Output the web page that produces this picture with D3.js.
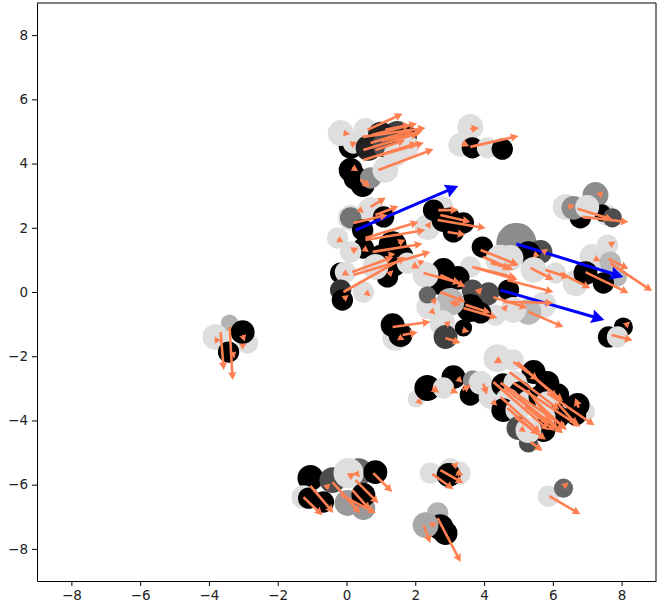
<!DOCTYPE html>
<html>
<head>
<meta charset="utf-8">
<script src="https://cdn.jsdelivr.net/npm/d3@7"></script>
<style>
  html, body { margin: 0; padding: 0; background: #fff; }
  text { font-family: "DejaVu Sans", sans-serif; }
</style>
</head>
<body>
<script>
// circles: [x, y, shade, area], listed in drawing order
const circlesTopLeft = [
  [0.12, 4.52, 0, 200], [-0.17, 4.95, 0.87, 235], [0.55, 5.05, 0.87, 200], [0.2, 4.64, 0.87, 160],
  [1.48, 4.89, 0.25, 275], [1.0, 4.9, 0.13, 235], [1.3, 4.5, 0, 235], [1.7, 4.85, 0.13, 200],
  [0.64, 4.49, 0.13, 235], [1.13, 4.58, 0.3, 235], [1.77, 4.52, 0.87, 200],
  [1.42, 4.27, 0.87, 200], [0.12, 3.8, 0, 200], [0.26, 3.55, 0, 200], [0.47, 3.33, 0, 200],
  [0.7, 3.55, 0.55, 160], [1.13, 3.8, 0.87, 235],
];
const circlesTopMiddle = [
  [3.6, 5.14, 0.87, 235], [3.31, 4.58, 0.87, 200], [3.66, 4.49, 0, 160], [4.1, 4.49, 0.87, 160], [4.53, 4.45, 0, 160],
];
const circlesLeftGroup = [
  [0.7, 2.55, 0.87, 235], [-0.26, 1.68, 0.87, 160], [0.12, 2.31, 0.87, 235], [0.12, 2.31, 0.45, 160],
  [2.79, 2.65, 0.87, 160], [2.35, 2.02, 0.87, 235], [1.08, 2.34, 0, 160], [0.47, 1.93, 0, 160],
  [0.49, 1.37, 0, 160], [0.12, 1.25, 0.87, 160], [-0.17, 0.59, 0, 160], [-0.03, 0.62, 0.87, 160],
  [-0.17, 0.06, 0.2, 160], [-0.12, -0.25, 0, 160], [0.49, 0, 0.87, 160], [1.34, 1.46, 0, 275],
  [1.0, 1.1, 0, 200], [1.6, 1.1, 0, 200], [1.34, 0.9, 0, 275], [1.19, 0.47, 0, 160], [0.84, 0.78, 0.87, 235],
  [1.42, -1.43, 0.87, 235], [1.34, -1.03, 0, 200], [1.57, -1.34, 0, 200],
];
const circlesUpperCentre = [
  [2.53, 2.55, 0, 160], [2.82, 2.24, 0, 200], [3.0, 2.3, 0, 160], [3.4, 2.15, 0, 160], [3.11, 1.87, 0, 160],
];
const circlesUpperRight = [
  [6.37, 2.65, 0.87, 235], [7.24, 3.02, 0.55, 235], [7.56, 2.4, 0.87, 160], [6.8, 2.31, 0, 160],
  [7.44, 2.46, 0, 105], [7.73, 2.31, 0.3, 130], [6.6, 2.62, 0.55, 200], [7.0, 2.65, 0.87, 200],
];
const circlesRight = [
  [4.94, 1.53, 0.55, 565], [5.64, 1.25, 0.3, 200], [5.29, 1.21, 0, 200], [4.77, 1.06, 0.87, 235],
  [5.44, 0.69, 0.87, 235], [6.08, 0.59, 0.87, 160], [6.66, 0.28, 0.87, 235], [7.59, 1.46, 0.87, 160],
  [7.15, 1.09, 0.87, 235], [7.67, 0.93, 0.72, 160], [7.88, 0.47, 0.72, 130], [6.95, 0.59, 0, 200],
  [7.47, 0.28, 0, 160], [5.73, -0.4, 0.87, 235], [5.29, -0.62, 0.72, 235], [4.71, 0.06, 0, 160],
  [4.13, -0.03, 0.3, 160], [4.85, -0.56, 0.87, 235], [8.05, -1.09, 0, 130], [7.62, -1.4, 0, 160],
  [7.88, -1.4, 0.87, 160],
];
const circlesCentre = [
  [3.6, 0.78, 0.87, 160], [2.82, 0.69, 0, 200], [3.23, 0.44, 0, 200], [2.73, 0.28, 0, 200],
  [2.3, 0.53, 0.87, 235], [1.77, 0.9, 0.87, 160], [3.66, 0.06, 0.3, 160], [4.1, -0.09, 0.3, 160],
  [4.33, -0.72, 0.87, 160], [3.6, -0.5, 0, 275], [3.9, -0.65, 0, 160], [3.02, -0.31, 0.72, 275],
  [2.38, -0.47, 0.87, 200], [2.35, -0.09, 0.4, 105], [3.4, -1.12, 0, 105], [2.79, -0.97, 0.87, 235],
  [2.88, -1.4, 0.25, 200], [3.95, 1.4, 0, 160], [4.48, 1.0, 0.87, 320],
];
const circlesLowerRight = [
  [2.03, -3.33, 0.87, 105], [2.35, -2.99, 0, 235], [3.11, -2.65, 0, 200], [2.82, -2.99, 0.87, 160],
  [3.66, -2.74, 0.55, 130], [3.6, -3.21, 0, 160], [4.39, -2.06, 0.87, 275], [4.85, -2.12, 0.87, 160],
  [5.44, -2.49, 0, 200], [5.84, -2.83, 0, 200], [6.13, -3.21, 0, 200], [6.95, -3.74, 0.87, 130],
  [6.72, -3.52, 0, 200], [6.66, -3.83, 0, 160], [3.9, -2.83, 0.87, 200], [4.19, -3.27, 0.87, 200],
  [4.56, -2.9, 0, 200], [4.91, -2.83, 0.87, 200], [5.06, -3.15, 0, 200], [4.68, -3.36, 0.87, 200],
  [4.56, -3.68, 0, 200], [4.97, -3.68, 0.87, 200], [5.29, -3.43, 0.87, 200], [5.64, -3.27, 0, 200],
  [5.84, -3.46, 0.87, 200], [6.13, -3.89, 0, 200], [5.73, -3.89, 0.87, 200], [5.73, -4.3, 0, 200],
  [5.0, -4.24, 0.3, 200], [5.29, -4.7, 0.3, 130], [5.29, -4.3, 0.87, 235],
];
const circlesBottom = [
  [-1.05, -5.79, 0, 235], [-1.25, -6.39, 0.87, 200], [-1.1, -6.42, 0, 160], [-0.67, -6.54, 0, 160],
  [-0.41, -5.86, 0.3, 235], [0.35, -5.61, 0.4, 275], [0.06, -5.64, 0.87, 320], [0.84, -5.61, 0, 200],
  [0.03, -6.57, 0.6, 235], [0.49, -6.73, 0.6, 200], [0.49, -6.32, 0, 200],
  [3.02, -5.55, 0.87, 200], [3.26, -5.64, 0.87, 200], [2.44, -5.64, 0.87, 160], [2.97, -5.7, 0, 200],
  [2.65, -6.88, 0.7, 160], [2.73, -7.32, 0, 235], [2.88, -7.51, 0, 200], [2.3, -7.26, 0.66, 235],
  [5.87, -6.36, 0.87, 160], [6.31, -6.11, 0.4, 130],
];
const circlesFarLeft = [
  [-3.4, -0.97, 0.7, 105], [-3.81, -1.4, 0.87, 235], [-2.88, -1.59, 0.87, 160], [-3.43, -1.87, 0, 160], [-3.02, -1.25, 0, 200],
];

// arrows: [x, y, u, v]
const blueArrows = [
  [0.26, 1.93, 2.99, 1.37], [4.94, 1.5, 3.11, -1.03], [4.48, 0.06, 3.02, -0.93],
];
const arrowsUpper = [
  [0.61, 5.05, 1.02, 0.5], [0.47, 4.83, 1.83, 0.28], [0.49, 4.42, 1.6, 0.53], [0.7, 4.64, 1.22, 0.4],
  [0.49, 4.11, 1.57, 0.53], [0.93, 3.8, 1.6, 0.65], [0.84, 4.42, 0.87, 0.31], [1.13, 5.05, 0.73, 0.16],
  [0.75, 4.9, 1.3, 0.35], [0.95, 4.25, 1.3, 0.4], [1.0, 4.7, 1.2, 0.3],
  [-0.09, 4.95, 0.17, -0.03], [0.12, 4.58, 0.2, 0.09], [0.17, 3.88, 0.17, -0.12], [0.41, 3.49, 0.29, -0.22],
  [3.6, 5.08, 0.26, 0.03], [3.6, 4.52, 1.4, 0.34], [3.37, 4.64, 0.2, -0.1],
];
const arrowsLeftGroup = [
  [0.7, 2.65, 0.44, 0.29], [0.84, 2.4, 0.67, 0.27], [0.2, 2.15, 0.99, 0.25], [0.35, 2.59, 0.12, -0.09],
  [0.55, 1.68, 1.54, 0.5], [0.55, 1.62, 1.74, 0.31], [0.76, 1.25, 1.45, 0.25], [0.17, 0.62, 1.19, 0.47],
  [0.2, 0.53, 2.24, 0.72], [-0.09, 0, 1.8, 1.09], [-0.26, 1.65, 0.17, -0.1], [0.15, 1.28, 0.2, 0.1],
  [-0.09, 0.62, 0.15, -0.1], [-0.09, -0.22, 0.12, 0.1], [0.55, 0, 0.12, -0.1], [1.22, 0.53, 0.1, 0.1],
  [1.51, 1.53, 0.2, 0.1], [1.92, 0.84, 0.2, -0.1], [2.09, 0.9, 0.15, 0.06], [1.22, 1.15, 0.2, 0.03],
  [0.49, 1.37, 0.15, -0.12], [1.34, -1.09, 1.1, 0.16], [1.63, -1.34, 0.44, 0.09], [1.51, -1.4, 0.17, -0.09],
  [2.65, 2.24, 1.4, -0.25], [2.67, 2.55, 0.58, 0], [2.94, 1.87, 0.52, -0.09], [2.73, 2.4, 0.87, -0.22], [2.35, 2.02, 0.09, 0.15],
];
const arrowsRight = [
  [6.72, 2.59, 1.02, -0.34], [6.86, 2.34, 1.34, -0.16], [7.33, 2.99, 0.1, 0.1], [6.45, 2.65, 0.17, 0.03],
  [7.62, 1.03, 0.58, -0.31], [7.67, 0.9, 1.22, -0.87], [6.95, 0.62, 1.25, -0.65], [6.22, 0.59, 0.87, -0.47],
  [5.78, 0.69, 0.7, -0.25], [5.35, 0.75, 0.67, -0.37], [4.68, 0.37, 1.34, -0.37], [5.29, -0.62, 1.02, -0.47],
  [4.56, -0.31, 1.45, -0.03], [7.65, 1.46, 0.15, 0.1], [7.21, 1.06, 0.17, -0.1], [5.44, 1.18, 0.17, -0.06],
  [5.7, 1.22, 0.12, 0.1], [7.71, -1.34, 0.61, -0.16], [8.1, -1.06, 0.1, 0.1],
];
const arrowsCentre = [
  [3.9, 1.31, 1.1, -0.47], [3.98, 1.09, 0.87, -0.4], [4.19, 0.9, 0.58, -0.16], [3.78, 0.75, 1.16, -0.31],
  [4.77, 0.93, 0.2, -0.12], [2.24, 0.59, 1.08, -0.31], [2.73, 0.53, 0.73, -0.37], [2.73, 0, 0.73, -0.31],
  [3.66, 0.78, 1.31, -0.4], [3.4, -0.5, 0.99, -0.31], [4.27, -0.16, 0.99, -0.34], [2.88, -1.43, 0.44, -0.16],
  [3.46, -0.4, 0.73, -0.25], [2.5, -0.34, 0.12, 0.15], [2.44, -0.56, 0.1, -0.1], [3.8, -0.03, 0.15, 0.17],
  [2.88, -1.03, 0.12, 0.1], [4.56, -0.56, 0.12, 0.15], [3.02, -0.31, 0.3, -0.1], [3.37, -1.18, 0.2, -0.06],
];
const arrowsLowerRight = [
  [4.85, -2.18, 0.73, -0.56], [4.97, -2.18, 1.16, -1.12], [4.74, -2.49, 1.45, -1.18], [4.27, -2.8, 1.6, -1.5],
  [4.48, -2.83, 1.89, -1.4], [4.85, -2.83, 1.95, -1.37], [4.48, -3.27, 1.16, -1.12], [4.68, -3.61, 0.9, -0.84],
  [5.26, -3.05, 0.87, -1.25], [5.84, -3.15, 1.37, -1.0], [6.13, -3.46, 0.58, -0.69], [5.35, -4.67, 0.35, -0.28],
  [5.2, -3.55, 0.87, -0.78], [4.6, -3.0, 1.3, -1.1], [5.0, -3.3, 1.3, -1.1], [5.5, -3.4, 0.9, -0.9],
  [4.9, -3.9, 0.9, -0.7], [5.5, -2.7, 0.8, -0.7], [4.48, -2.1, -0.2, -0.12], [2.06, -3.36, 0.1, -0.1], [2.5, -2.99, 0.2, -0.15],
  [3.23, -2.68, 0.1, -0.1], [3.05, -3.05, 0.2, -0.1], [3.98, -2.85, 0.1, -0.35], [4.24, -3.4, 0.1, -0.1],
  [5.06, -4.24, 0.12, -0.1], [6.75, -3.6, -0.1, 0.3], [3.37, -3.05, 0.25, 0.15],
];
const arrowsBottom = [
  [-1.05, -6.04, 0.67, -0.84], [-1.25, -6.39, 0.55, -0.56], [-0.41, -5.92, 0.81, -0.97], [0.26, -5.86, 0.67, -0.72],
  [0.78, -5.64, 0.55, -0.59], [-0.17, -6.32, 1.02, -0.56], [0.17, -6.17, 0.52, -0.62], [-0.61, -6.11, 0.1, 0.1],
  [0.06, -5.76, 0.2, 0.12], [0.26, -5.61, 0.12, -0.15], [2.5, -5.67, 0.61, -0.47], [2.73, -5.55, 0.67, -0.4],
  [3.11, -5.45, 0.1, 0.1], [3.2, -5.61, 0.2, -0.1], [2.24, -7.26, 0.2, -0.56], [2.65, -7.04, 0.67, -1.37],
  [2.44, -7.26, 0.15, 0.05], [5.9, -6.36, 0.9, -0.56], [6.31, -6.07, 0.1, 0.1],
];
const arrowsFarLeft = [
  [-3.66, -1.25, 0.09, -1.18], [-3.4, -1.09, 0.09, -1.65], [-3.84, -1.5, 0.15, 0], [-3.02, -1.34, 0.03, -0.1],
  [-3.08, -1.71, 0.1, 0.06], [-3.31, -1.87, 0.03, -0.12],
];
const tickValues = [-8, -6, -4, -2, 0, 2, 4, 6, 8];

const allCircles = [].concat(
  circlesTopLeft, circlesTopMiddle, circlesLeftGroup, circlesUpperCentre, circlesUpperRight,
  circlesRight, circlesCentre, circlesLowerRight, circlesBottom, circlesFarLeft,
);
const coralArrows = [].concat(
  arrowsUpper, arrowsLeftGroup, arrowsRight, arrowsCentre, arrowsLowerRight, arrowsBottom, arrowsFarLeft,
);

const margin = {
  top: 3, right: 1, bottom: 27, left: 37,
};
const width = 657 - margin.left - margin.right;
const height = 608 - margin.top - margin.bottom;

const x = d3.scaleLinear().domain([-9, 9]).range([0, width]);
const y = d3.scaleLinear().domain([-9, 9]).range([height, 0]);
const radius = d3.scaleSqrt().domain([0, 650]).range([0, 21.5]);
const shade = d3.scaleLinear().domain([0, 1]).range(['#000', '#fff']);

const svg = d3.select('body').append('svg')
  .attr('width', 657)
  .attr('height', 608)
  .style('display', 'block')
  .append('g')
  .attr('transform', `translate(${margin.left},${margin.top})`);

svg.selectAll('circle')
  .data(allCircles)
  .enter().append('circle')
  .attr('cx', d => x(d[0]))
  .attr('cy', d => y(d[1]))
  .attr('r', d => radius(d[3]))
  .attr('fill', d => shade(d[2]));

// shaft and head outline of one arrow, very short arrows are just a head
function arrowPath(d, w, headW, headL) {
  const x0 = x(d[0]);
  const y0 = y(d[1]);
  const dx = x(d[0] + d[2]) - x0;
  const dy = y(d[1] + d[3]) - y0;
  const rawLen = Math.hypot(dx, dy);
  const k = Math.max(0.85, Math.min(1, rawLen / headL));
  const hl = headL * k;
  const hw = (headW * k) / 2;
  const sw = (w * k) / 2;
  const len = Math.max(rawLen, hl);
  const ux = dx / rawLen;
  const uy = dy / rawLen;
  const pt = (along, side) => [x0 + ux * along - uy * side, y0 + uy * along + ux * side];
  return d3.line()([
    pt(0, -sw), pt(len - hl * 0.9, -sw), pt(len - hl, -hw), pt(len, 0),
    pt(len - hl, hw), pt(len - hl * 0.9, sw), pt(0, sw),
  ]) + 'Z';
}

svg.selectAll('.blue')
  .data(blueArrows)
  .enter().append('path')
  .attr('class', 'blue')
  .attr('fill', '#0000ff')
  .attr('d', d => arrowPath(d, 3, 14, 13));

svg.selectAll('.coral')
  .data(coralArrows)
  .enter().append('path')
  .attr('class', 'coral')
  .attr('fill', '#ff7f50')
  .attr('d', d => arrowPath(d, 2.6, 8.5, 8));

// axes
const xAxis = svg.append('g')
  .attr('transform', `translate(0,${height})`)
  .call(d3.axisBottom(x).tickValues(tickValues).tickSizeInner(5).tickSizeOuter(0).tickPadding(4));
const yAxis = svg.append('g')
  .call(d3.axisLeft(y).tickValues(tickValues).tickSizeInner(5).tickSizeOuter(0).tickPadding(4));
svg.append('line').attr('x1', width).attr('x2', width).attr('y1', 0).attr('y2', height).attr('stroke', '#000');
svg.append('line').attr('x1', 0).attr('x2', width).attr('y1', 0).attr('y2', 0).attr('stroke', '#000');

[xAxis, yAxis].forEach((a) => {
  a.selectAll('text').style('font-family', '"DejaVu Sans", sans-serif').style('font-size', '13.5px').attr('fill', '#222');
  a.selectAll('line').attr('stroke', '#000');
  a.select('.domain').attr('stroke', '#000');
});
</script>
</body>
</html>
